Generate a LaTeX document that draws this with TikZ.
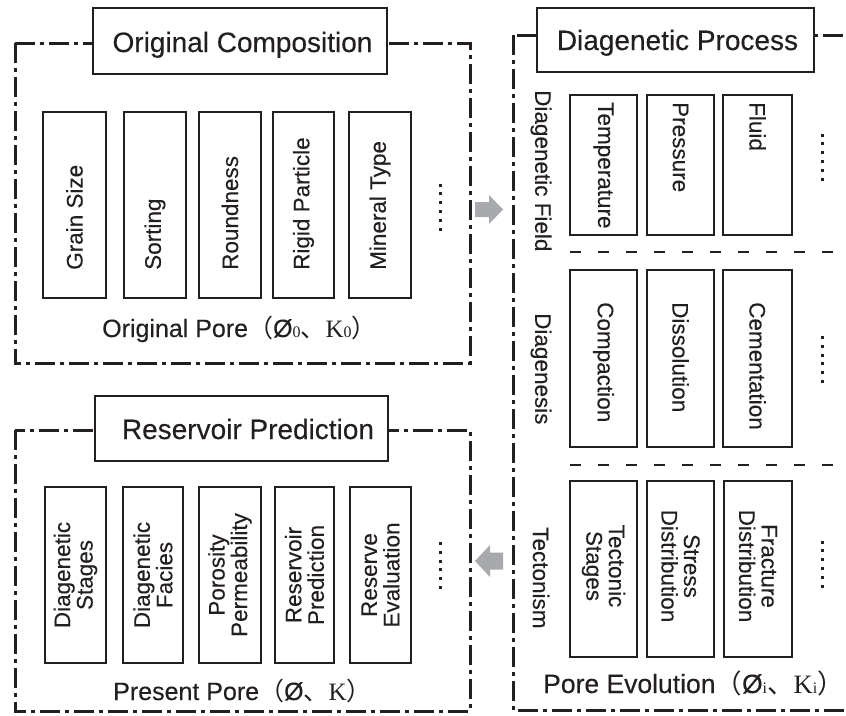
\documentclass[tikz,border=0pt]{standalone}
\usepackage{fontspec}
\setmainfont{Liberation Sans}[FakeBold=0.25]
\newfontfamily\tnr{Liberation Serif}
\newfontfamily\cjk{Noto Sans CJK SC}
\newcommand\smnum[1]{{\tnr\fontsize{16}{16}\selectfont #1}}
\definecolor{ink}{HTML}{231F20}
\definecolor{arrowgray}{HTML}{A7A9AC}
\begin{document}
\begin{tikzpicture}[x=1pt,y=-1pt,
  frame/.style={draw=ink, line width=3pt, dash pattern=on 20pt off 5pt on 4pt off 5pt},
  titlebox/.style={draw=ink, line width=2pt, fill=white, inner sep=0pt},
  itembox/.style={draw=ink, line width=2pt, inner sep=0pt},
  sepline/.style={draw=ink, line width=2pt, dash pattern=on 11pt off 17pt},
  titletext/.style={font=\fontsize{28}{30}\selectfont, inner sep=0pt, text=ink},
  itemtext/.style={font=\fontsize{22.5}{22.5}\selectfont, inner sep=0pt, text=ink, align=center},
  bottomtext/.style={font=\fontsize{25}{28}\selectfont, inner sep=0pt, text=ink},
  garrow/.style={fill=arrowgray, draw=none}
]
\useasboundingbox (0,0) rectangle (846,715);
\clip (0,0) rectangle (846,715);

% ---------- frames ----------
\draw[frame] (15,43) rectangle (470,363);
\draw[frame] (15,430) rectangle (470,711);
\draw[frame] (513,35) rectangle (870,710);

% ---------- title boxes ----------
\node[titlebox, minimum width=294pt, minimum height=66pt] (t1) at (240,41) {};
\node[titletext, anchor=base] (t1txt) at (242.5,52) {Original Composition};
\node[titlebox, minimum width=277pt, minimum height=64pt] (t2) at (675.5,40) {};
\node[titletext, anchor=base] (t2txt) at (677.5,50) {Diagenetic Process};
\node[titlebox, minimum width=293pt, minimum height=65pt] (t3) at (241.5,428.5) {};
\node[titletext, anchor=base] (t3txt) at (248,439) {Reservoir Prediction};

% ---------- top-left items ----------
\foreach \n/\xa/\xb/\txt in {a1/43/106/Grain Size, a2/124/186/Sorting, a3/199/261/Roundness, a4/273/334/Rigid Particle, a5/349/411/Mineral Type}{
  \node[itembox, minimum width={\xb-\xa}, minimum height=186pt] (\n) at ({(\xa+\xb)/2},205) {};
  \node[itemtext, rotate=90, anchor=west] (\n t) at ({(\xa+\xb)/2},270) {\txt};
}
\foreach \i in {0,...,5} \fill[ink] (438.5,{183.5+\i*8.8}) rectangle ++(3,3);
\node[bottomtext, anchor=base west] (op) at (102,337)
  {Original Pore{\cjk （}Ø\smnum{0}{\cjk 、}{\tnr K}\smnum{0}{\cjk ）}};

% ---------- bottom-left items ----------
\foreach \n/\xa/\xb/\txt in {c1/45/106/Diagenetic\\Stages, c2/123/183/Diagenetic\\Facies, c3/199/261/Porosity\\Permeability, c4/275/334/Reservoir\\Prediction, c5/350/411/Reserve\\Evaluation}{
  \node[itembox, minimum width={\xb-\xa}, minimum height=176pt] (\n) at ({(\xa+\xb)/2},575) {};
  \node[itemtext, rotate=90] (\n t) at ({(\xa+\xb)/2},575) {\txt};
}
\foreach \i in {0,...,5} \fill[ink] (438.5,{542+\i*8.8}) rectangle ++(3,3);
\node[bottomtext, anchor=base west] (pp) at (113,700)
  {Present Pore{\cjk （}Ø{\cjk 、}{\tnr K}{\cjk ）}};

% ---------- right column ----------
\node[itemtext, rotate=-90, anchor=west] (s1) at (541,90) {Diagenetic Field};
\node[itemtext, rotate=-90, anchor=west] (s2) at (541,313) {Diagenesis};
\node[itemtext, rotate=-90, anchor=west] (s3) at (541,527) {Tectonism};

\foreach \n/\xa/\xb/\txt in {r1/570/637/Temperature, r2/647/714/Pressure, r3/723/792/Fluid}{
  \node[itembox, minimum width={\xb-\xa}, minimum height=140pt] (\n) at ({(\xa+\xb)/2},165) {};
  \node[itemtext, rotate=-90, anchor=west] (\n t) at ({(\xa+\xb)/2},102) {\txt};
}
\foreach \n/\xa/\xb/\txt in {p1/570/637/Compaction, p2/647/714/Dissolution, p3/723/792/Cementation}{
  \node[itembox, minimum width={\xb-\xa}, minimum height=177pt] (\n) at ({(\xa+\xb)/2},358.5) {};
  \node[itemtext, rotate=-90, anchor=west] (\n t) at ({(\xa+\xb)/2},302) {\txt};
}
\foreach \n/\xa/\xb/\txt in {q1/570/637/Tectonic\\Stages, q2/647/714/Stress\\Distribution, q3/724/792/Fracture\\Distribution}{
  \node[itembox, minimum width={\xb-\xa}, minimum height=176pt] (\n) at ({(\xa+\xb)/2},569) {};
  \node[itemtext, rotate=-90] (\n t) at ({(\xa+\xb)/2},566) {\txt};
}
\foreach \i in {0,...,5} \fill[ink] (820.5,{133.5+\i*8.8}) rectangle ++(3,3);
\foreach \i in {0,...,5} \fill[ink] (820.5,{336+\i*8.8}) rectangle ++(3,3);
\foreach \i in {0,...,5} \fill[ink] (820.5,{540.5+\i*8.8}) rectangle ++(3,3);

\coordinate (d1a) at (570,252);
\coordinate (d1b) at (846,252);
\coordinate (d2a) at (570,465);
\coordinate (d2b) at (846,465);
\draw[sepline] (d1a) -- (d1b);
\draw[sepline] (d2a) -- (d2b);

\node[bottomtext, font=\fontsize{26.5}{28}\selectfont, anchor=base west] (pe) at (543,693)
  {Pore Evolution{\cjk （}Ø\smnum{i}{\cjk 、}{\tnr K}\smnum{i}{\cjk ）}};

% ---------- gray arrows ----------
\fill[garrow] (475,202) -- (489,202) -- (489,195) -- (503,209.5) -- (489,224) -- (489,217) -- (475,217) -- cycle;
\fill[garrow] (503,552.5) -- (490,552.5) -- (490,545) -- (475,561) -- (490,577) -- (490,569.5) -- (503,569.5) -- cycle;
\end{tikzpicture}
\end{document}
